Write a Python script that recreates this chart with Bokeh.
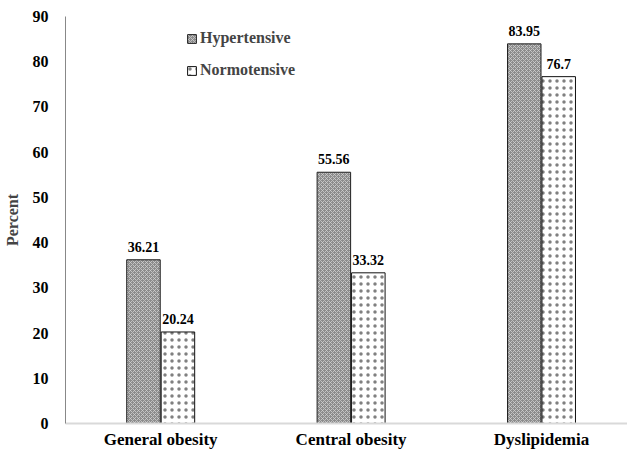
from bokeh.plotting import figure
from bokeh.models import ColumnDataSource, Range1d, FixedTicker, Legend, LegendItem, LabelSet
from bokeh.embed import file_html
from bokeh.resources import INLINE

categories = ["General obesity", "Central obesity", "Dyslipidemia"]
hypertensive = [36.21, 55.56, 83.95]
normotensive = [20.24, 33.32, 76.7]
hyp_labels = ["36.21", "55.56", "83.95"]
norm_labels = ["20.24", "33.32", "76.7"]
y_ticks = [0, 10, 20, 30, 40, 50, 60, 70, 80, 90]

FONT = "Liberation Serif"
xs = list(range(len(categories)))
off = 0.0905
bw = 0.176

src_h = ColumnDataSource(dict(x=[v - off for v in xs], top=hypertensive, lab=hyp_labels))
src_n = ColumnDataSource(dict(x=[v + off for v in xs], top=normotensive, lab=norm_labels))

p = figure(frame_width=563, frame_height=407, output_backend="svg", toolbar_location=None,
           x_range=Range1d(-0.5, 2.457), y_range=Range1d(0, 90),
           min_border_left=0, min_border_right=0, min_border_top=16, min_border_bottom=0)
p.outline_line_color = None
p.grid.visible = False
p.background_fill_color = "white"
p.border_fill_color = "white"

rh = p.vbar(x="x", top="top", width=bw, source=src_h, fill_color="#8c8c8c",
            line_color="#222222", line_width=1,
            hatch_pattern="x", hatch_color="#d0d0d0", hatch_scale=4, hatch_weight=0.8)
rn = p.vbar(x="x", top="top", width=bw, source=src_n, fill_color="white",
            line_color="#111111", line_width=1,
            hatch_pattern=".", hatch_color="#808080", hatch_scale=7, hatch_weight=1.2)

for src in (src_h, src_n):
    p.add_layout(LabelSet(x="x", y="top", text="lab", source=src, text_align="center",
                          text_baseline="bottom", y_offset=8, text_font=FONT,
                          text_font_style="bold", text_font_size="14px", text_color="black"))

p.xaxis.ticker = FixedTicker(ticks=xs)
p.xaxis.major_label_overrides = {i: c for i, c in enumerate(categories)}
p.xaxis.major_tick_line_color = None
p.xaxis.minor_tick_line_color = None
p.xaxis.axis_line_color = "#d9d9d9"
p.xaxis.axis_line_width = 2
p.xaxis.major_label_text_font = FONT
p.xaxis.major_label_text_font_style = "bold"
p.xaxis.major_label_text_font_size = "17px"
p.xaxis.major_label_text_color = "black"
p.xaxis.major_label_standoff = 0

p.yaxis.ticker = FixedTicker(ticks=y_ticks)
p.yaxis.major_tick_line_color = None
p.yaxis.minor_tick_line_color = None
p.yaxis.axis_line_color = "#888888"
p.yaxis.major_label_text_font = FONT
p.yaxis.major_label_text_font_style = "bold"
p.yaxis.major_label_text_font_size = "16px"
p.yaxis.major_label_text_color = "black"
p.yaxis.major_label_standoff = 11
p.yaxis.axis_label = "Percent"
p.yaxis.axis_label_text_font = FONT
p.yaxis.axis_label_text_font_style = "bold"
p.yaxis.axis_label_text_font_size = "16px"
p.yaxis.axis_label_standoff = 9

legend = Legend(items=[LegendItem(label="Hypertensive", renderers=[rh]),
                       LegendItem(label="Normotensive", renderers=[rn])],
                location=(121, 344), orientation="vertical",
                glyph_width=11, glyph_height=11, label_standoff=3,
                label_text_font=FONT, label_text_font_style="bold",
                label_text_font_size="16px", label_height=14, spacing=14,
                padding=0, margin=0, border_line_color=None,
                background_fill_alpha=0)
p.add_layout(legend, "center")

open("out.html", "w").write(file_html(p, INLINE))
